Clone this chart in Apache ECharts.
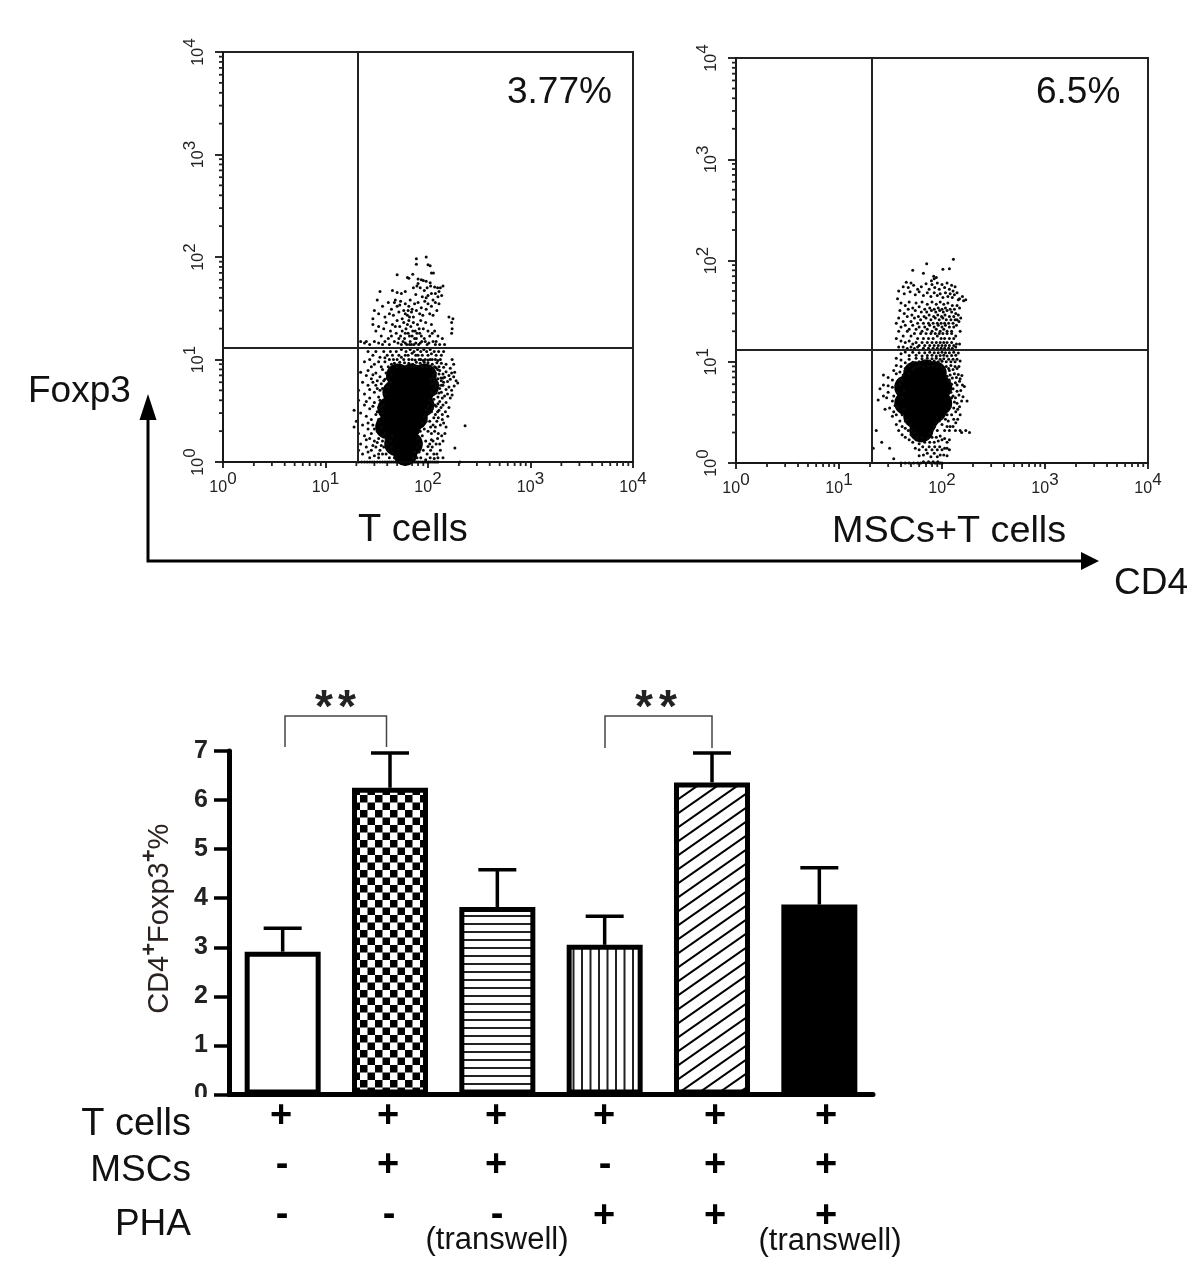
<!DOCTYPE html>
<html>
<head>
<meta charset="utf-8">
<style>html,body{margin:0;padding:0;background:#fff}#c{width:1200px;height:1278px}</style>
<script src="https://cdn.jsdelivr.net/npm/echarts@6/dist/echarts.min.js"></script>
</head>
<body>
<div id="c"></div>
<script>
// ---------- bar panel data ----------
const barCats = ['T', 'T+MSC', 'T+MSC transwell', 'T+PHA', 'T+MSC+PHA', 'T+MSC+PHA transwell'];
const barMeans = [2.91, 6.25, 3.82, 3.05, 6.36, 3.87];
const barTops = [3.39, 6.96, 4.58, 3.63, 6.96, 4.62];
const rowT = ['+', '+', '+', '+', '+', '+'];
const rowM = ['-', '+', '+', '-', '+', '+'];
const rowP = ['-', '-', '-', '+', '+', '+'];
const logDecades = [1, 10, 100, 1000];
const logMinors = [2, 3, 4, 5, 6, 7, 8, 9];
// ---------- flow panel gates ----------
const gate1 = [20.7, 12.9];
const gate2 = [20.9, 13];
// ---------- flow panel 1: T cells (CD4, Foxp3) ----------
const core1 = [[51,7],[69,7],[93,7],[60,6],[82,6],[98,5.5],[47,4.8],[65,4.8],[87,4.8],[55,4],[76,4],[88,3.6],[42,3.3],[57,3.3],[69,3.3],[48,2.7],[62,2.7],[76,2.7],[40,2.2],[53,2.2],[65,2.2],[49,1.5],[60,1.5],[68,1.5],[55,1.8],[60,1.2]];
const dots1 = [
[77,96],[96,100],[100,84],[105,82],[77,85],[108,70],[113,70],[50,67],[71,68],[65,62],[80,61],[86,60],[96,58],[105,56],[90,59],[80,55],[63,63],
[34,46],[32,38],[45,47],[50,45],[55,44],[60,46],[72,50],[78,52],[84,50],[92,47],[98,50],[106,52],[116,51],[124,50],[128,46],[118,44],[108,44],[100,42],[96,40],[88,41],[76,43],[125,41],[136,42],[140,52],[132,50],
[30,30],[29,25],[33,28],[36,33],[38,26],[41,36],[44,31],[47,36],[46,27],[50,33],[52,29],[54,37],[56,25],[58,30],[60,35],[63,27],[65,33],[67,38],[69,29],[72,26],[74,35],[77,30],[80,36],[83,28],[86,32],[89,27],[93,37],[96,31],[100,35],[104,28],[108,33],[112,38],[118,36],[122,30],[128,35],[112,27],[60,28],[64,30],[66,26],[70,31],[53,34],[48,38],[42,28],[160,26],
[29,22],[31,19],[33,21],[35,17],[37,20],[39,23],[41,16],[43,19],[45,22],[47,15],[49,18],[50,24],[52,16],[53,21],[55,14],[56,19],[58,23],[59,16],[61,20],[62,14],[64,18],[65,24],[67,15],[68,21],[70,17],[72,23],[73,14],[75,19],[77,16],[79,22],[81,14],[83,18],[85,24],[87,15],[90,20],[92,16],[95,23],[98,14],[100,19],[104,17],[108,22],[112,15],[116,19],[120,15],[125,17],[130,14],[138,16],[145,14],[170,23],[172,20],[170,18],[175,25],[25,15],[22,15],[24,14.5],[27,14],[30,15],[33,14.5],[36,14],[38,15],[42,14],
[54,17],[57,15],[60,18],[63,22],[66,17],[69,14],[71,19],[74,16],[78,18],[82,20],[86,17],[44,17],[48,21],[51,14.5],[60,14.5],[66,14],[76,14.5],[84,14.5],[94,15],[102,14.5],[110,18],[118,14],
[26,12],[29,11],[31,12],[34,10.5],[37,12],[40,11],[43,12],[46,10],[49,12],[52,11],[55,12.5],[58,10],[61,12],[64,11],[67,12.5],[70,10],[73,12],[76,11],[79,12.5],[82,10],[85,12],[88,11],[91,12.5],[94,10],[97,12],[100,11],[105,12.5],[110,10],[115,12],[120,11],[127,12],[135,11],[142,12],[24,9.5],[27,10],[30,9],[33,9.5],[28,8.5],[35,8.5],[38,9.5],[41,8.5],[44,9],[47,9.2],[50,8.5],[53,9.4],[56,8.5],[59,9.3],[62,8.6],[65,9.2],[68,8.5],[71,9],[74,8.6],[77,9.4],[80,8.6],[84,9.2],[88,8.5],[92,9.4],[96,8.5],[100,9.3],[105,8.6],[110,9],[116,8.5],[122,9.3],[128,8.5],[135,9.2],[142,8.4],[150,9],[172,10],[178,9],[165,8.2],
[22,7.5],[25,7],[28,6.5],[31,7.4],[34,6.8],[23,6],[26,5.6],[29,6],[32,5.2],[35,5.8],[38,6.4],[21,5],[24,4.6],[27,4.2],[30,4.8],[33,4.3],[21,4],[24,3.6],[27,3.3],[30,3.8],[33,3.4],[19,3.2],[22,3],[25,2.8],[28,2.6],[31,2.9],[20,2.5],[23,2.3],[26,2.1],[29,2.3],[32,2],[19,2.2],[21,1.9],[24,1.8],[27,1.7],[30,1.6],[33,1.7],[36,1.6],[22,1.5],[25,1.4],[28,1.3],[31,1.4],[34,1.3],[37,1.4],[23,1.2],[27,1.1],[30,1.15],[33,1.1],[36,1.2],[39,1.2],[42,1.1],[45,1.25],[21,1.3],
[130,7.8],[140,7.2],[150,7.6],[160,7],[170,7.4],[182,7.5],[125,6.5],[135,6.2],[145,6.7],[155,6.1],[165,6.4],[178,6.8],[188,6.2],[195,5.9],[120,5.5],[130,5.2],[140,5.6],[150,5.1],[160,5.4],[170,5],[180,5.5],[115,4.6],[125,4.3],[135,4.8],[145,4.4],[155,4.6],[165,4.2],[172,4.5],[110,3.8],[120,3.5],[130,3.9],[140,3.6],[150,3.8],[160,3.4],[108,3.1],[118,2.9],[128,3.2],[138,2.9],[148,3.1],[156,2.8],[104,2.5],[112,2.3],[122,2.5],[132,2.3],[142,2.4],[150,2.2],[100,2],[108,1.9],[116,2],[126,1.9],[136,1.8],[146,1.9],[95,1.6],[104,1.5],[112,1.6],[120,1.5],[130,1.5],[140,1.6],[90,1.3],[98,1.2],[106,1.3],[114,1.2],[122,1.2],[132,1.3],[85,1.1],[95,1.05],[105,1.1],[115,1.08],[125,1.1],[140,1.1],
[230,2.26],[183,1.37],[205,1.0],
[36,8],[39,7.4],[42,8],[37,6.2],[40,6.6],[43,6],[36,5.2],[38,4.6],[41,5.4],[44,7.2],[34,4],[37,3.6],[36,3],[33,2.6],[35,2.2],[38,1.9],[36,1.8],[40,1.5],[43,1.6],[41,1.3],[44,1.4],[47,1.1],[45,1.8],
[112,8],[118,7.4],[124,8],[112,7],[116,6.4],[122,6],[128,7.2],[110,5.8],[115,5.2],[108,4.8],[106,6.4],[104,4],[100,3.5],[96,3.2],[102,3],[92,2.8],[96,2.5],[88,2.4],[92,2.1],[84,2],[88,1.8],[80,1.7],[84,1.5],[78,1.4],[82,1.25],[74,1.25],[72,1.1],[78,1.1],[110,3.3],[114,4.1],[125,3.7],[135,5.6],[140,6.6],[120,8.3],
[55,10.5],[60,11],[65,10],[70,11.5],[75,9.9],[80,11],[85,10],[90,9.8],[50,10],[45,11],[42,10],[38,10.4],[105,10],[100,9.9],[108,11.4],[118,10],[125,9.8],[132,10],
[26,7.8],[29,7.1],[32,6.2],[27,5.1],[31,5.6],[34,5],[25,3.9],[29,3.5],[32,3.1],[35,3.5],[26,2.4],[30,2.1],[34,2.4],[28,1.9],[32,1.55],[25,1.65],[29,1.45],[35,1.45],[39,1.65],[26,1.25],[33,1.2],
[110,6.6],[118,5.9],[126,5.6],[134,6.6],[142,6],[120,4.7],[128,4.7],[138,4.2],[116,3.6],[124,3.1],[134,3.4],[114,2.7],[126,2.7],[138,2.6],[106,2.2],[118,2.2],[108,1.65],[124,1.7],[100,1.42],[110,1.4],
[21,1],[22.5,1],[24,1],[25.5,1],[27,1],[28.5,1],[30,1],[32,1],[34,1],[36,1],[38,1],[40,1],[42,1],[44,1],[46,1],[48,1],[50,1],[52.5,1],[55,1],[57.5,1],[60,1],[63,1],[66,1],[69,1],[72,1],[75,1],[78,1],[81,1],[85,1],[89,1],[93,1],[97,1],[101,1],[105,1],[110,1],[115,1],[120,1],[125,1]
];
// ---------- flow panel 2: MSCs+T cells (CD4, Foxp3) ----------
const core2 = [[55,7.7],[70,8],[85,7.7],[45,5.6],[66,5.6],[96,5.6],[80,6.4],[55,6.4],[45,3.9],[66,3.9],[96,3.9],[80,4.6],[55,4.6],[55,2.9],[74,2.9],[85,3.3],[63,2.1],[68,2.5]];
const dots2 = [
[129,103],[71,93],[52,80],[66,75],[102,82],[118,83],[83,70],[79,63],[88,68],[84,66],
[45,61],[50,60],[42,55],[47,54],[53,57],[58,52],[63,55],[70,59],[75,52],[80,58],[85,54],[90,60],[94,52],[100,58],[106,54],[112,60],[118,52],[124,57],[128,50],[134,55],[38,50],[43,47],[49,49],[55,46],[60,49],[66,45],[72,48],[78,44],[84,48],[90,45],[96,47],[102,43],[108,48],[114,44],[120,47],[126,43],[132,46],[140,48],[148,42],[158,44],[170,41],[162,40],[144,41],[37,42],
[40,38],[44,36],[48,39],[52,34],[56,38],[60,35],[64,39],[68,33],[72,37],[76,34],[80,39],[84,33],[88,37],[92,34],[96,39],[100,33],[104,37],[108,34],[114,38],[120,33],[126,36],[132,33],[140,36],[148,34],[39,32],[43,30],[47,33],[51,29],[55,32],[59,28],[63,31],[67,28],[71,31],[75,29],[79,32],[83,28],[87,31],[91,29],[95,32],[99,28],[103,31],[107,29],[112,32],[118,28],[124,31],[130,28],[136,30],[144,29],[152,27],[140,26],
[38,27],[42,25],[46,28],[50,25],[54,27],[58,24],[62,26],[66,24],[70,27],[74,24],[78,26],[82,24],[86,27],[90,24],[94,26],[98,24],[102,27],[106,24],[110,26],[116,24],[122,26],[128,24],[134,26],[146,25],[36,24],[40,22],[44,23],[48,21],[52,23],[56,21],[60,22],[64,20],[68,22],[72,21],[76,23],[80,20],[84,22],[88,21],[92,23],[96,20],[100,22],[104,21],[108,23],[112,20],[118,22],[124,20],[130,22],[138,23],[150,20],[38,20],[42,18],[46,20],[50,18],[54,19],[58,17],[62,19],[66,17],[70,19],[74,17],[78,19],[82,17],[86,19],[90,18],[94,19],[98,17],[102,19],[106,17],[112,19],[118,17],[124,19],[130,17],[136,18],[36,17],[40,16],[44,15.5],[48,16],[52,15],[56,15.5],[60,14.5],[64,15.5],[68,14.5],[72,15.5],[76,14.5],[80,15.5],[84,14.5],[88,15.5],[92,14.5],[96,15.5],[100,14.5],[104,15.5],[108,14.5],[112,15.5],[118,14.5],[124,15.5],[130,14.5],[138,15],[148,15],[38,14],[42,14],[46,13.5],[50,14],[54,13.5],[58,14],[66,13.6],[74,13.6],[82,13.6],[90,13.6],[98,13.6],[106,13.6],[116,13.6],[126,13.6],[136,14],
[40,12],[44,12.5],[48,11.5],[52,12.4],[56,11.6],[60,12.3],[64,11.4],[68,12.3],[72,11.5],[76,12.4],[80,11.6],[84,12.3],[88,11.4],[92,12.3],[96,11.5],[100,12.4],[104,11.6],[108,12.3],[112,11.4],[118,12.3],[124,11.5],[130,12.4],[136,11.6],[144,12.2],
[36,10.8],[40,10.4],[44,9.8],[48,10.6],[52,9.9],[56,10.8],[60,10],[64,10.7],[68,10.2],[72,10.8],[76,10.2],[80,10.7],[84,10.2],[88,10.8],[92,10],[96,10.6],[100,10.1],[104,10.7],[110,10],[116,10.6],[122,10],[128,10.6],[134,10],[140,10.6],[150,10.2],[36,9.2],[40,9],[44,8.6],[48,9.1],[52,8.4],[58,9],[110,9],[116,8.6],[122,9.2],[128,8.4],[134,9],[140,8.6],[146,9],
[27,7.4],[30,7],[33,6.6],[36,7.6],[34,8.2],[39,7.9],[42,7.4],[38,6.6],[33,5.6],[36,5.8],[30,5.8],[39,6],[27,5.9],[25,5.4],[30,5],[34,4.6],[37,5],[29,4.4],[33,4.1],[35,3.7],[27,4.6],[24,4.2],[31,3.5],[34,3.2],[37,3.6],[28,3.4],[33,2.9],[36,3],[39,2.6],[36,2.4],[41,2.3],[44,2.2],[38,2.1],[41,1.9],[44,1.8],[47,2.1],[23,2.1],[26,1.6],[31,1.4],[21.5,1.4],[34,1.1],
[120,7.4],[126,6.9],[132,7.6],[138,7],[144,7.5],[150,6.8],[156,7.3],[135,6.2],[140,5.9],[148,6.4],[158,5.9],[165,5.7],[140,5.1],[146,4.7],[152,5.2],[160,4.5],[128,4.6],[135,4.4],[140,3.9],[148,3.6],[155,4.1],[175,4.1],[130,3.5],[136,3.2],[142,3.4],[150,3],[124,3],[130,2.7],[136,2.5],[142,2.7],[115,2.6],[120,2.3],[128,2.3],[135,2.1],[100,2.4],[106,2.1],[112,2.3],[118,2.1],[150,2.1],[155,2],[185,2],[170,2.1],
[50,1.9],[54,2],[58,1.8],[48,1.7],[52,1.6],[56,1.7],[60,1.55],[64,1.8],[68,1.6],[72,1.75],[76,1.6],[80,1.8],[84,1.6],[88,1.8],[92,1.65],[96,1.85],[100,1.7],[106,1.75],[112,1.6],[118,1.7],[55,1.4],[60,1.35],[65,1.45],[70,1.35],[75,1.45],[80,1.35],[85,1.45],[90,1.35],[95,1.45],[100,1.35],[106,1.4],[112,1.4],[118,1.35],[66,1.2],[72,1.25],[78,1.15],[84,1.25],[90,1.15],[96,1.2],[104,1.2],[112,1.18],[60,1.18],
[44,8.2],[48,7.6],[41,6.6],[43,5.2],[41,4.4],[43,3.4],[41,3],[46,2.7],[44,2.6],[49,2.4],[50,2.1],[112,7.2],[118,6.6],[124,6],[128,5.4],[122,5],[118,8.2],[104,8.6],[98,8.9],[90,9],[82,9.2],[74,9.1],[66,9],[60,9.2],[54,8.8],[124,4.4],[120,3.6],[112,3],[108,2.7],[100,2.8],[94,2.6],[88,2.5],[84,2.3],[80,2.1],[76,1.95],[90,2.1],[132,4],
[40,1],[44,1],[48,1],[53,1],[58,1],[62,1],[66,1.03],[70,1],[74,1.03],[78,1],[82,1.03],[85,1],[88,1],[91,1.03],[94,1],[97,1],[100,1]
];
// ---------- drawing ----------
const font = '"Liberation Sans", Arial, sans-serif';
const ink = '#151515';

function tile(w, h, paint) {
  const c = document.createElement('canvas');
  c.width = w; c.height = h;
  const g = c.getContext('2d');
  g.fillStyle = '#fff'; g.fillRect(0, 0, w, h);
  g.fillStyle = '#000'; g.strokeStyle = '#000';
  paint(g, w, h);
  return { image: c, repeat: 'repeat' };
}
const checker = tile(15, 15, (g) => { g.fillRect(0, 0, 7.5, 7.5); g.fillRect(7.5, 7.5, 7.5, 7.5); });
const hLines = tile(8, 8, (g) => { g.fillStyle = '#222'; g.fillRect(0, 3, 8, 2); });
const vLines = tile(17, 8, (g) => { g.fillStyle = '#222'; g.fillRect(3, 0, 2, 8); g.fillRect(11.5, 0, 2, 8); });
const diag = tile(20, 14, (g, w, h) => {
  g.lineWidth = 2;
  [-1, 0, 1].forEach((k) => {
    g.beginPath(); g.moveTo(-w, 2 * h + k * h); g.lineTo(2 * w, -h + k * h); g.stroke();
  });
});
const barFills = ['#ffffff', checker, hLines, vLines, diag, '#000000'];

const minorValues = [];
logDecades.forEach((d) => logMinors.forEach((m) => minorValues.push(d * m)));

function logAxis(grid, isY) {
  return {
    type: 'log', logBase: 10, min: 1, max: 10000, gridIndex: grid,
    axisLine: { show: true, onZero: false, lineStyle: { color: ink, width: 1.5 } },
    axisTick: { show: true, length: isY ? 8 : 6, lineStyle: { color: ink, width: 1.8 } },
    minorTick: { show: false },
    splitLine: { show: false }, minorSplitLine: { show: false },
    axisLabel: {
      show: true, rotate: isY ? 90 : 0, margin: isY ? 16 : 9, hideOverlap: false, interval: 0,
      showMinLabel: true, showMaxLabel: true,
      formatter: (v) => '{b|10}{s|' + Math.round(Math.log10(v)) + '}',
      rich: {
        b: { fontFamily: font, fontSize: 16, color: '#222', padding: [8, 0, 0, 0] },
        s: { fontFamily: font, fontSize: 17, color: '#222', padding: [0, 0, 8, 0] }
      }
    }
  };
}
function minorTicks(i) {
  return {
    type: 'custom', xAxisIndex: i, yAxisIndex: i, silent: true, clip: false, z: 1,
    data: minorValues.map((v) => [v]),
    encode: { x: 0 },
    renderItem: (params, api) => {
      const v = api.value(0);
      const p = api.coord([v, 1]);
      const q = api.coord([1, v]);
      const st = { stroke: '#222', lineWidth: 1.8, fill: null };
      return { type: 'group', children: [
        { type: 'line', shape: { x1: p[0], y1: p[1], x2: p[0], y2: p[1] + 4 }, style: st },
        { type: 'line', shape: { x1: q[0], y1: q[1], x2: q[0] - 4, y2: q[1] }, style: st }
      ] };
    }
  };
}
function gateLines(g) {
  return {
    silent: true, symbol: 'none', animation: false, label: { show: false },
    lineStyle: { color: '#222', width: 2, type: 'solid', opacity: 1 },
    data: [{ xAxis: g[0] }, { yAxis: g[1] }]
  };
}
function dotSeries(i, data, gate) {
  return {
    type: 'scatter', xAxisIndex: i, yAxisIndex: i, data: data, symbol: 'circle', symbolSize: 3,
    clip: false, itemStyle: { color: '#0a0a0a', opacity: 1 }, markLine: gateLines(gate), silent: true, z: 3
  };
}
function coreSeries(i, data) {
  return {
    type: 'scatter', xAxisIndex: i, yAxisIndex: i, data: data, symbol: 'circle', symbolSize: 24,
    clip: false, itemStyle: { color: '#000', opacity: 1 }, silent: true, z: 2
  };
}

const t = (text, x, y, size, extra) => ({
  type: 'text', x: x, y: y, z: 20,
  style: Object.assign({ text: text, fontFamily: font, fontSize: size, fill: '#111', textAlign: 'left', textVerticalAlign: 'middle' }, extra || {})
});
const seg = (pts, w, color) => ({
  type: 'polyline', z: 20, shape: { points: pts }, style: { stroke: color, lineWidth: w, fill: null }
});
const tri = (pts) => ({ type: 'polygon', z: 20, shape: { points: pts }, style: { fill: '#000' } });
const star = { textAlign: 'center', fontWeight: 'bold', fill: '#222' };

const graphics = [
  t('3.77%', 507, 93, 37), t('6.5%', 1036, 93, 37),
  t('T cells', 358, 531, 38), t('MSCs+T cells', 832, 532, 37.8),
  t('Foxp3', 28, 392, 37), t('CD4', 1114, 584, 37),
  seg([[148, 415], [148, 561], [1084, 561]], 3, '#000'),
  tri([[148, 394], [139.5, 420], [156.5, 420]]),
  tri([[1099, 561], [1081, 552], [1081, 570]]),
  seg([[285, 747], [285, 716], [386.5, 716], [386.5, 747]], 1.5, '#444'),
  seg([[605, 748], [605, 716], [712, 716], [712, 748]], 1.5, '#444'),
  t('*', 324, 709, 46, star), t('*', 347, 709, 46, star),
  t('*', 644, 709, 46, star), t('*', 668, 709, 46, star),
  t('T cells', 191, 1125, 38, { textAlign: 'right' }),
  t('MSCs', 191, 1171, 37, { textAlign: 'right' }),
  t('PHA', 191, 1225, 37, { textAlign: 'right' }),
  t('(transwell)', 497, 1240, 31, { textAlign: 'center' }),
  t('(transwell)', 830, 1241, 31, { textAlign: 'center' }),
  { type: 'rect', z: 15, shape: { x: 188, y: 1097, width: 40, height: 12 }, style: { fill: '#fff' } }
];
const signX = [281, 388, 496, 604, 715, 826];
const signRows = [[rowT, 1117, 1117], [rowM, 1166, 1166], [rowP, 1217, 1216]];
signRows.forEach(([row, yPlus, yMinus]) => {
  row.forEach((s, i) => {
    graphics.push(t(s, signX[i] + (s === '-' ? 1 : 0), s === '+' ? yPlus : yMinus, 38,
      { textAlign: 'center', fontWeight: 'bold', fill: '#000' }));
  });
});

const option = {
  animation: false,
  backgroundColor: '#fff',
  grid: [
    { left: 223, top: 52, width: 410, height: 410, show: true, borderColor: '#222', borderWidth: 2, backgroundColor: '#fff' },
    { left: 736, top: 58, width: 412, height: 405, show: true, borderColor: '#222', borderWidth: 2, backgroundColor: '#fff' },
    { left: 229, top: 751, width: 644, height: 343.5 }
  ],
  xAxis: [
    logAxis(0, false),
    logAxis(1, false),
    { type: 'category', gridIndex: 2, data: barCats,
      axisLine: { lineStyle: { color: '#000', width: 5 } }, axisTick: { show: false }, axisLabel: { show: false } }
  ],
  yAxis: [
    logAxis(0, true),
    logAxis(1, true),
    { type: 'value', gridIndex: 2, min: 0, max: 7, interval: 1, splitLine: { show: false },
      axisLine: { show: true, lineStyle: { color: '#000', width: 5 } },
      axisTick: { show: true, length: 15, lineStyle: { color: '#000', width: 3.5 } },
      axisLabel: { fontFamily: font, fontWeight: 'bold', fontSize: 25, color: '#222', margin: 21 },
      name: '{a|CD4}{s|+}{a|Foxp3}{s|+}{a|%}', nameLocation: 'middle', nameRotate: 90, nameGap: 54,
      nameTextStyle: { padding: [0, 0, 0, 8], rich: {
        a: { fontFamily: font, fontSize: 29, color: '#2a2320', padding: [6, 0, 0, 0] },
        s: { fontFamily: font, fontSize: 22, fontWeight: 'bold', color: '#2a2320', padding: [0, 0, 14, 0] }
      } } }
  ],
  series: [
    minorTicks(0), minorTicks(1),
    coreSeries(0, core1), dotSeries(0, dots1, gate1),
    coreSeries(1, core2), dotSeries(1, dots2, gate2),
    { type: 'bar', xAxisIndex: 2, yAxisIndex: 2, barWidth: 76, silent: true, z: 2,
      data: barMeans.map((v, i) => ({ value: v, itemStyle: { color: barFills[i], borderColor: '#000', borderWidth: 5 } })) },
    { type: 'custom', xAxisIndex: 2, yAxisIndex: 2, silent: true, z: 3, clip: false,
      data: barTops.map((top, i) => [i, barMeans[i], top]),
      encode: { x: 0, y: [1, 2] },
      renderItem: (params, api) => {
        const a = api.coord([api.value(0), api.value(1)]);
        const b = api.coord([api.value(0), api.value(2)]);
        const st = { stroke: '#000', lineWidth: 3.5, fill: null };
        return { type: 'group', children: [
          { type: 'line', shape: { x1: a[0], y1: a[1], x2: b[0], y2: b[1] }, style: st },
          { type: 'line', shape: { x1: b[0] - 19, y1: b[1], x2: b[0] + 19, y2: b[1] }, style: st }
        ] };
      } }
  ],
  graphic: graphics
};
const chart = echarts.init(document.getElementById('c'), null, { renderer: 'canvas' });
chart.setOption(option);
</script>
</body>
</html>
